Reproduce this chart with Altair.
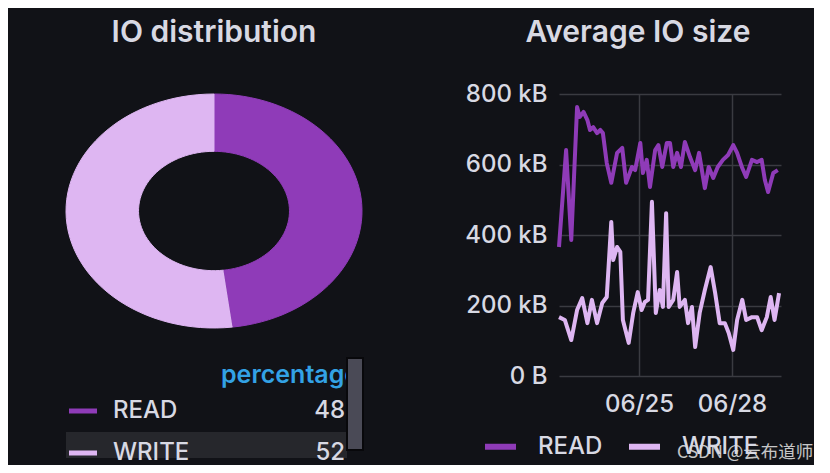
import altair as alt
import pandas as pd

BG = "#111217"
TEXT = "#d8d9e3"
GRID = "#3a3b41"
FONT = "Inter"
READ_C = "#8f3bb8"
WRITE_C = "#deb6f2"

# ---------------- data ----------------
series_names = ["READ", "WRITE"]
percentages = [48, 52]
legend_header = "percentage"

read_times = [
    "2023-06-22T10:00", "2023-06-22T15:30", "2023-06-22T19:30", "2023-06-23T00:00",
    "2023-06-23T02:00", "2023-06-23T05:00", "2023-06-23T08:00", "2023-06-23T10:00",
    "2023-06-23T12:30", "2023-06-23T15:30", "2023-06-23T18:00", "2023-06-23T20:00",
    "2023-06-23T23:00", "2023-06-24T02:30", "2023-06-24T07:00", "2023-06-24T11:00",
    "2023-06-24T14:00", "2023-06-24T18:30", "2023-06-24T21:00", "2023-06-25T01:00",
    "2023-06-25T03:00", "2023-06-25T06:00", "2023-06-25T08:30", "2023-06-25T12:30",
    "2023-06-25T15:00", "2023-06-25T18:00", "2023-06-25T21:30", "2023-06-26T00:00",
    "2023-06-26T02:30", "2023-06-26T05:30", "2023-06-26T08:30", "2023-06-26T11:30",
    "2023-06-26T15:30", "2023-06-26T19:30", "2023-06-26T22:30", "2023-06-27T03:00",
    "2023-06-27T06:00", "2023-06-27T09:30", "2023-06-27T13:00", "2023-06-27T17:00",
    "2023-06-27T21:00", "2023-06-28T01:00", "2023-06-28T04:00", "2023-06-28T08:00",
    "2023-06-28T11:00", "2023-06-28T15:30", "2023-06-28T19:30", "2023-06-28T23:00",
    "2023-06-29T01:30", "2023-06-29T04:00", "2023-06-29T08:00", "2023-06-29T11:30",
]
read_kb = [
    366, 641, 386, 763, 735, 749, 726, 698, 706, 689, 698, 689, 604, 548, 633, 647,
    548, 593, 584, 661, 576, 613, 536, 641, 655, 593, 661, 661, 593, 633, 593, 664,
    621, 584, 633, 533, 593, 562, 593, 613, 627, 655, 633, 590, 565, 613, 607, 613,
    556, 522, 576, 584,
]

write_times = [
    "2023-06-22T10:00", "2023-06-22T14:30", "2023-06-22T19:30", "2023-06-23T00:00",
    "2023-06-23T04:00", "2023-06-23T08:00", "2023-06-23T11:30", "2023-06-23T15:30",
    "2023-06-23T19:30", "2023-06-23T23:00", "2023-06-24T02:30", "2023-06-24T04:00",
    "2023-06-24T07:00", "2023-06-24T09:30", "2023-06-24T11:30", "2023-06-24T16:00",
    "2023-06-24T19:30", "2023-06-24T23:00", "2023-06-25T02:00", "2023-06-25T04:30",
    "2023-06-25T07:00", "2023-06-25T10:00", "2023-06-25T13:00", "2023-06-25T16:00",
    "2023-06-25T18:30", "2023-06-25T21:00", "2023-06-25T23:00", "2023-06-26T02:30",
    "2023-06-26T05:30", "2023-06-26T07:30", "2023-06-26T11:30", "2023-06-26T14:00",
    "2023-06-26T17:00", "2023-06-26T19:30", "2023-06-26T23:00", "2023-06-27T03:00",
    "2023-06-27T07:30", "2023-06-27T11:00", "2023-06-27T14:30", "2023-06-27T18:30",
    "2023-06-27T21:30", "2023-06-28T01:00", "2023-06-28T04:00", "2023-06-28T08:00",
    "2023-06-28T11:00", "2023-06-28T15:30", "2023-06-28T19:30", "2023-06-28T23:00",
    "2023-06-29T03:00", "2023-06-29T06:00", "2023-06-29T09:00", "2023-06-29T12:30",
]
write_kb = [
    167, 159, 102, 187, 221, 150, 216, 150, 207, 224, 437, 329, 366, 352, 159, 94,
    179, 238, 187, 210, 216, 494, 179, 244, 196, 462, 196, 216, 295, 196, 216, 150,
    196, 82, 179, 244, 309, 235, 150, 150, 122, 74, 159, 216, 159, 167, 167, 130,
    167, 224, 159, 235,
]

y_ticks = [0, 200, 400, 600, 800]
watermark = "CSDN @云布道师"

# ---------------- tables ----------------
pie_df = pd.DataFrame({"series": series_names, "pct": percentages})
line_df = pd.concat([
    pd.DataFrame({"series": "READ", "time": read_times, "kb": read_kb}),
    pd.DataFrame({"series": "WRITE", "time": write_times, "kb": write_kb}),
], ignore_index=True)

color_scale = alt.Scale(domain=series_names, range=[READ_C, WRITE_C])

# ---------------- left panel: elliptical donut + table legend ----------------
N = 60
INNER = 0.51
DONUT_H = 234
TABLE_TOP = 264
LEFT_H = 364

donut = (
    alt.Chart(pie_df)
    .transform_joinaggregate(total="sum(pct)")
    .transform_window(cum="sum(pct)", sort=[alt.SortField("series")], frame=[None, 0])
    .transform_calculate(
        a0="2*PI*(datum.cum - datum.pct)/datum.total",
        a1="2*PI*datum.cum/datum.total",
        k=f"sequence(0, {2 * N + 2})",
    )
    .transform_flatten(["k"])
    .transform_calculate(
        t=f"datum.k <= {N} ? datum.a0 + (datum.a1 - datum.a0)*datum.k/{N} "
          f": datum.a1 - (datum.a1 - datum.a0)*(datum.k - {N + 1})/{N}",
        r=f"datum.k <= {N} ? 1 : {INNER}",
    )
    .transform_calculate(px="datum.r*sin(datum.t)", py="datum.r*cos(datum.t)")
    .mark_line(strokeWidth=1, strokeJoin="round")
    .encode(
        x=alt.X("px:Q", scale=alt.Scale(domain=[-1, 1], nice=False, zero=False), axis=None),
        y=alt.Y("py:Q", scale=alt.Scale(domain=[-1, 1], nice=False, zero=False,
                                        range=[DONUT_H, 0]), axis=None),
        order=alt.Order("k:Q"),
        detail="series:N",
        fill=alt.Fill("series:N", scale=color_scale, legend=None),
        stroke=alt.Stroke("series:N", scale=color_scale, legend=None),
    )
)

row_scale = alt.Scale(type="point", domain=series_names, padding=0,
                      range=[TABLE_TOP + 53, TABLE_TOP + 95])
row_y = alt.Y("series:N", scale=row_scale, axis=None)

highlight = (
    alt.Chart(pie_df).transform_filter("datum.series == 'WRITE'")
    .mark_rect(color="#26272c")
    .encode(x=alt.value(0), x2=alt.value(281), y=alt.value(TABLE_TOP + 74),
            y2=alt.value(LEFT_H))
)
swatch = (
    alt.Chart(pie_df).mark_rule(strokeWidth=5)
    .encode(x=alt.value(3), x2=alt.value(31), y=row_y,
            color=alt.Color("series:N", scale=color_scale, legend=None))
)
row_labels = (
    alt.Chart(pie_df).mark_text(align="left", baseline="middle", font=FONT, fontSize=24,
                                fontWeight=500, color=TEXT)
    .encode(x=alt.value(47), y=row_y, text="series:N")
)
row_values = (
    alt.Chart(pie_df).mark_text(align="right", baseline="middle", font=FONT, fontSize=24,
                                fontWeight=500, color=TEXT)
    .encode(x=alt.value(279), y=row_y, text="pct:Q")
)
header = (
    alt.Chart(pd.DataFrame({"h": [legend_header]}))
    .mark_text(align="left", baseline="middle", font=FONT, fontSize=25, fontWeight=600,
               color="#33a2e5")
    .encode(x=alt.value(155), y=alt.value(TABLE_TOP + 17), text="h:N")
)
scrollbar = (
    alt.Chart(pd.DataFrame({"s": [0]}))
    .mark_rect(color="#4a4a56", stroke="#08080b", strokeWidth=2)
    .encode(x=alt.value(281), x2=alt.value(297), y=alt.value(TABLE_TOP),
            y2=alt.value(TABLE_TOP + 92))
)

left = (
    alt.layer(donut, highlight, swatch, row_labels, row_values, header, scrollbar)
    .resolve_scale(y="independent")
    .properties(
        width=296, height=LEFT_H,
        title=alt.Title("IO distribution", fontSize=30, font=FONT, fontWeight=600,
                        color=TEXT, anchor="middle", frame="group", offset=46),
    )
)

# ---------------- right panel: time series ----------------
axis_common = dict(labelFont=FONT, labelFontSize=24, labelFontWeight=500, labelColor=TEXT,
                   gridColor=GRID, gridWidth=1.5, domain=False, ticks=False, title=None)
lines = (
    alt.Chart(line_df)
    .mark_line(strokeWidth=4, strokeJoin="round")
    .encode(
        x=alt.X(
            "time:T",
            scale=alt.Scale(domain=[alt.DateTime(year=2023, month=6, date=22, hours=10),
                                    alt.DateTime(year=2023, month=6, date=29, hours=14)]),
            axis=alt.Axis(values=[alt.DateTime(year=2023, month=6, date=25),
                                  alt.DateTime(year=2023, month=6, date=28)],
                          format="%m/%d", labelPadding=16, **axis_common),
        ),
        y=alt.Y(
            "kb:Q",
            scale=alt.Scale(domain=[0, 800]),
            axis=alt.Axis(values=y_ticks, labelPadding=12,
                          labelExpr="datum.value == 0 ? '0 B' : datum.value + ' kB'",
                          **axis_common),
        ),
        color=alt.Color(
            "series:N", scale=color_scale,
            legend=alt.Legend(title=None, orient="none", legendX=-77, legendY=334,
                              direction="horizontal", symbolType="stroke",
                              symbolStrokeWidth=6, symbolSize=960, labelFont=FONT,
                              labelFontSize=24, labelFontWeight=500, labelColor=TEXT,
                              labelOffset=19, columnPadding=14),
        ),
    )
)
mark_wm = (
    alt.Chart(pd.DataFrame({"w": [watermark]}))
    .mark_text(align="left", baseline="middle", font="Noto Sans CJK SC", fontSize=17.5,
               color="#e6e6e6", opacity=0.85)
    .encode(x=alt.value(118), y=alt.value(359), text="w:N")
)
right = alt.layer(lines, mark_wm).properties(
    width=222, height=282,
    title=alt.Title("Average IO size", fontSize=30, font=FONT, fontWeight=600,
                    color=TEXT, anchor="middle", frame="group", offset=34.5, dx=-32),
)

chart = (
    alt.hconcat(left, right, spacing=100)
    .resolve_scale(color="independent")
    .properties(background=BG, padding={"left": 57, "top": 9, "right": 0, "bottom": 0})
    .configure_view(stroke=None)
)

chart.save("out.html", embed_options={"renderer": "svg", "actions": False})
